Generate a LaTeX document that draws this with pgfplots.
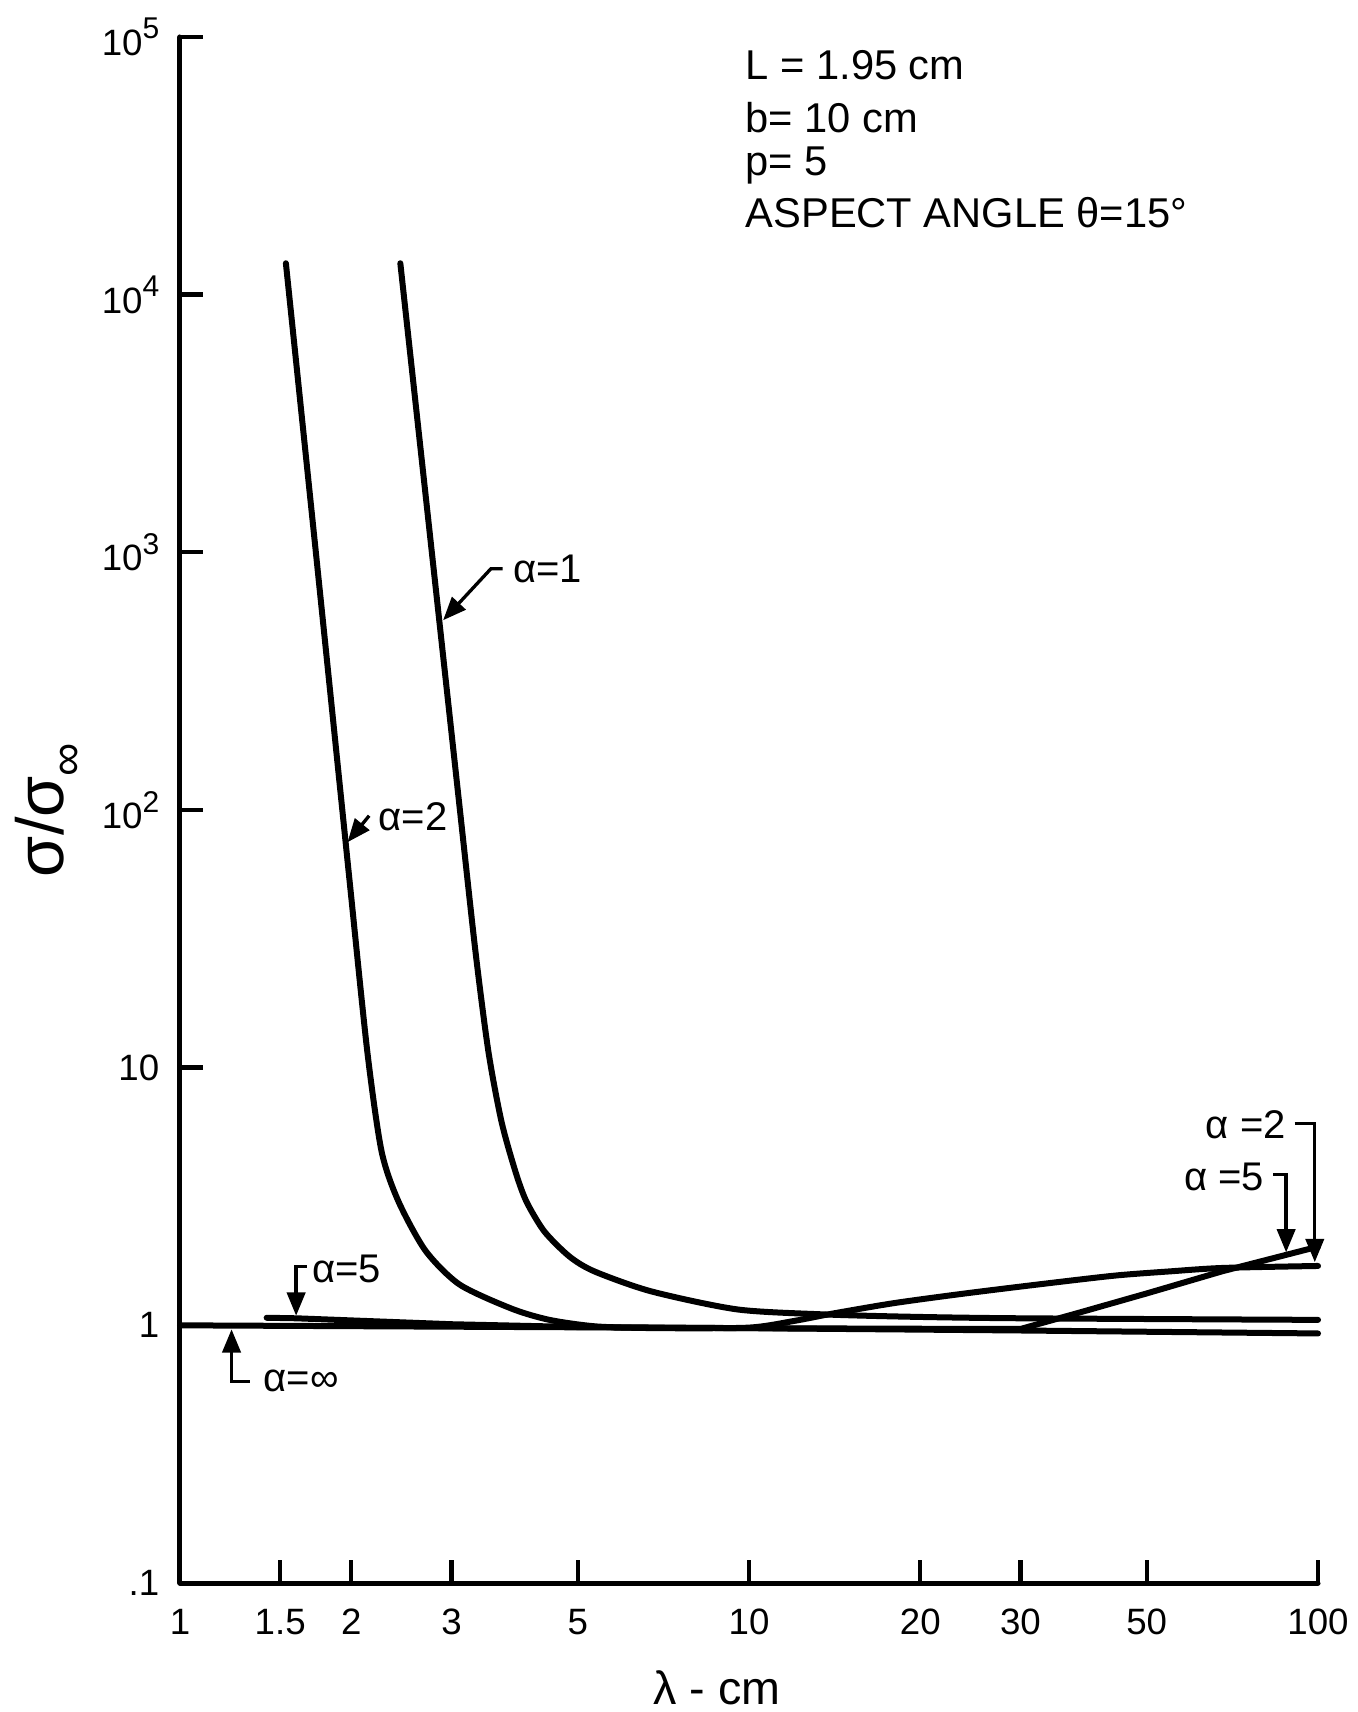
\documentclass[border=0pt]{standalone}
\usepackage{pgfplots}
\pgfplotsset{compat=1.18}
\usepackage{fontspec}
\setmainfont{Liberation Sans}
\usetikzlibrary{arrows.meta}

\pgfplotstableread{
x y
1.535 13240
1.733 1000
1.929 100
1.992 50
2.134 11.54
2.26 4.75
2.42 3.03
2.70 1.95
3.10 1.44
3.83 1.16
4.46 1.05
5.4 0.99
7.0 0.975
10.0 0.98
12.0 1.04
14.0 1.11
18.0 1.22
24.0 1.33
33.0 1.45
44.0 1.56
55.0 1.62
68.0 1.67
100 1.70
}\alphatwo

\pgfplotstableread{
x y
2.439 13240
2.734 1311
3.093 107.6
3.306 28.2
3.484 11.54
3.673 6.18
3.886 3.955
4.062 3.026
4.368 2.315
4.833 1.852
5.347 1.62
6.73 1.355
9.53 1.153
13.49 1.103
19.1 1.08
30 1.065
100 1.05
}\alphaone

\pgfplotstableread{
x y
1.42 1.07
1.6 1.065
2 1.045
3 1.01
5 0.985
10 0.975
20 0.97
30 0.968
37.5 1.11
50 1.33
67.8 1.62
100 2.02
}\alphafive

\pgfplotstableread{
x y
1 1.0
10 0.975
30 0.955
100 0.93
}\alphainf

\newcommand{\sups}[1]{\raisebox{0.85ex}{\fontsize{9}{9}\selectfont #1}}

\begin{document}
\begin{tikzpicture}
\begin{axis}[
  at={(0,0)}, anchor=south west,
  scale only axis, width=341.4pt, height=463.8pt,
  xmode=log, ymode=log,
  xmin=1, xmax=100, ymin=0.1, ymax=1e5,
  axis lines*=left,
  axis line style={line width=1.5pt, line cap=round},
  tick align=inside,
  major tick length=7pt,
  every tick/.style={black, line width=1.3pt},
  xtick={1,1.5,2,3,5,10,20,30,50,100},
  xticklabels={1,1.5,2,3,5,10,20,30,50,100},
  ytick={0.1,1,10,100,1000,10000,100000},
  yticklabels={.1,1,10,10\sups{2},10\sups{3},10\sups{4},10\sups{5}},
  xminorticks=false, yminorticks=false,
  tick label style={font=\fontsize{11}{11}\selectfont},
  xticklabel style={anchor=center, yshift=-11.7pt},
  yticklabel style={xshift=-2.7pt},
  clip=false,
]
\addplot[black, line width=1.8pt, line cap=round, line join=round, smooth, tension=0.45] table {\alphatwo};
\addplot[black, line width=1.8pt, line cap=round, line join=round, smooth, tension=0.45] table {\alphaone};
\addplot[black, line width=1.8pt, line cap=round, line join=round] table {\alphafive};
\addplot[black, line width=1.8pt, line cap=round, line join=round] table {\alphainf};

% annotations
\tikzset{lead/.style={black, line width=1pt, -{Triangle[length=7pt,width=5.5pt]}}}
\draw[lead] (axis cs:3.69,864) -- (axis cs:3.52,864) -- (axis cs:2.90,545);
\node[anchor=west, font=\fontsize{12}{12}\selectfont, inner sep=1pt] at (axis cs:3.79,864) {α=1};

\draw[lead] (axis cs:2.15,95) -- (axis cs:1.97,75);
\node[anchor=west, font=\fontsize{12}{12}\selectfont, inner sep=1pt] at (axis cs:2.20,94) {α=2};

\draw[lead] (axis cs:1.67,1.69) -- (axis cs:1.60,1.69) -- (axis cs:1.60,1.09);
\node[anchor=west, font=\fontsize{12}{12}\selectfont, inner sep=1pt] at (axis cs:1.68,1.66) {α=5};

\draw[lead] (axis cs:1.327,0.607) -- (axis cs:1.232,0.607) -- (axis cs:1.232,0.965);
\node[anchor=west, font=\fontsize{12}{12}\selectfont, inner sep=1pt] at (axis cs:1.38,0.607) {α=∞};

\draw[lead] (axis cs:91,6.09) -- (axis cs:98.7,6.09) -- (axis cs:98.7,1.76);
\node[anchor=east, font=\fontsize{12}{12}\selectfont, inner sep=1pt] at (axis cs:89.2,6.0) {α =2};

\draw[lead] (axis cs:83.4,3.84) -- (axis cs:87.9,3.84) -- (axis cs:87.9,1.92);
\node[anchor=east, font=\fontsize{12}{12}\selectfont, inner sep=1pt] at (axis cs:81.7,3.78) {α =5};

% parameter block
\node[anchor=west, font=\fontsize{12.5}{12.5}\selectfont, inner sep=0pt] at (axis cs:9.84,77500) {L = 1.95 cm};
\node[anchor=west, font=\fontsize{12.5}{12.5}\selectfont, inner sep=0pt] at (axis cs:9.84,48750) {b= 10 cm};
\node[anchor=west, font=\fontsize{12.5}{12.5}\selectfont, inner sep=0pt] at (axis cs:9.84,31780) {p= 5};
\node[anchor=west, font=\fontsize{12.5}{12.5}\selectfont, inner sep=0pt] at (axis cs:9.84,20860) {ASPECT ANGLE θ=15°};

% axis labels
\node[font=\fontsize{14}{14}\selectfont, inner sep=0pt] at ([yshift=-31.5pt]axis cs:8.79,0.1) {λ - cm};
\node[rotate=90, font=\fontsize{20}{20}\selectfont] at ([xshift=-39.3pt]rel axis cs:0,0.5) {σ/σ\raisebox{-0.55ex}{\fontsize{14}{14}\selectfont ∞}};
\end{axis}
\pgfresetboundingbox
\path[use as bounding box] (-54pt,-38.7pt) rectangle (353.1pt,474.9pt);
\end{tikzpicture}
\end{document}
